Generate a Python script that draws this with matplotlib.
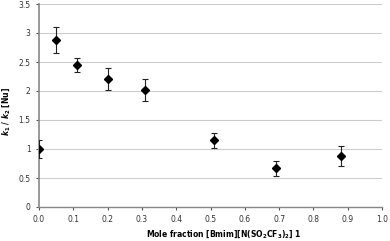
import matplotlib
matplotlib.use("Agg")
import matplotlib.pyplot as plt

# Data
mole_fraction = [0.0, 0.05, 0.11, 0.20, 0.31, 0.51, 0.69, 0.88]
ratio = [1.00, 2.88, 2.45, 2.20, 2.02, 1.15, 0.67, 0.88]
ratio_err = [0.16, 0.23, 0.125, 0.19, 0.19, 0.13, 0.13, 0.18]

x_ticks = [0.0, 0.1, 0.2, 0.3, 0.4, 0.5, 0.6, 0.7, 0.8, 0.9, 1.0]
x_tick_labels = ["0.0", "0.1", "0.2", "0.3", "0.4", "0.5", "0.6", "0.7", "0.8", "0.9", "1.0"]
y_ticks = [0, 0.5, 1, 1.5, 2, 2.5, 3, 3.5]
y_tick_labels = ["0", "0.5", "1", "1.5", "2", "2.5", "3", "3.5"]

W, H = 390, 241
fig = plt.figure(figsize=(W / 100, H / 100), dpi=100)
ax = fig.add_axes([39 / W, 1 - 207 / H, 343 / W, 203 / H])

ax.errorbar(mole_fraction, ratio, yerr=ratio_err, fmt="D", color="black",
            markersize=4.5, ecolor="#222222", elinewidth=0.8, capsize=2,
            capthick=0.8, zorder=3)

ax.set_xlim(0, 1.0)
ax.set_ylim(0, 3.5)
ax.set_xticks(x_ticks)
ax.set_xticklabels(x_tick_labels)
ax.set_yticks(y_ticks)
ax.set_yticklabels(y_tick_labels)
ax.tick_params(axis="both", labelsize=5.5, colors="#555555", length=2.5,
               width=0.8, labelcolor="#333333")

ax.yaxis.grid(True, color="#cccccc", linewidth=0.8)
ax.set_axisbelow(True)
for s in ["top", "right"]:
    ax.spines[s].set_visible(False)
ax.spines["left"].set_color("#888888")
ax.spines["left"].set_linewidth(1.2)
ax.spines["bottom"].set_color("#888888")
ax.spines["bottom"].set_linewidth(1.0)

fig.text(224 / W, 1 - 234 / H,
         r"Mole fraction [Bmim][N(SO$_\mathbf{2}$CF$_\mathbf{3}$)$_\mathbf{2}$] 1",
         fontsize=5.5, fontweight="bold", ha="center", va="center")
fig.text(6 / W, 1 - 111 / H,
         r"$\mathbfit{k}_\mathbf{1}$ / $\mathbfit{k}_\mathbf{2}$ [Nu]",
         fontsize=5.5, fontweight="bold", ha="center", va="center",
         rotation=90)

fig.savefig("out.png", dpi=100)
